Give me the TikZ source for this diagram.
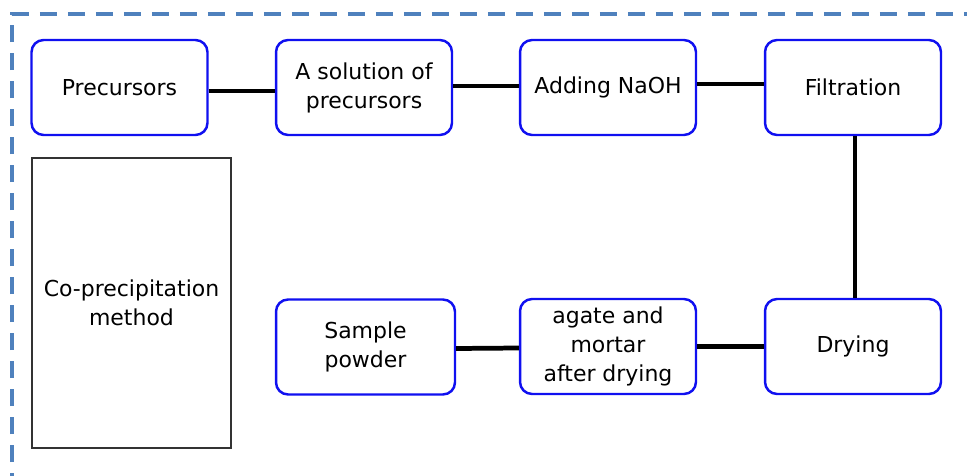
\documentclass[tikz,border=0pt]{standalone}
\usepackage{fontspec}
\setmainfont{DejaVu Sans}
\usepackage{tikz}
\usetikzlibrary{calc}
\usetikzlibrary{positioning}

\definecolor{frameblue}{HTML}{4F81BD}
\definecolor{boxblue}{HTML}{1010F0}

\tikzset{
  stepbox/.style={rectangle, rounded corners=0.24cm, draw=boxblue, line width=1.4pt,
    minimum width=3.52cm, minimum height=1.9cm, align=center, fill=white,
    font=\fontsize{12.5}{16.5}\selectfont},
  link/.style={line width=2.7pt, draw=black}
}

\begin{document}
\begin{tikzpicture}[x=0.02cm, y=-0.02cm]
\useasboundingbox (0,0) rectangle (967,476);
% outer dashed frame
\draw [frameblue, line width=2.3pt, dash pattern=on 0.35cm off 0.21cm] (12,490) -- (12,14) -- (980,14);

\node [stepbox] (pre) at (119.5, 87.5) {Precursors};
\node [stepbox] (sol) at (364, 87.5) {A solution of\\precursors};
\node [stepbox] (naoh) at (608, 87.5) {Adding NaOH};
\node [stepbox] (filt) at (853, 87.5) {Filtration};
\node [stepbox] (dry) at (853, 346.5) {Drying};
\node [stepbox] (agate) at (608, 346.5) {agate and\\mortar\\after drying};
\node [stepbox, minimum width=3.58cm] (powder) at (365.5, 347) {Sample\\powder};
\node [rectangle, draw=black!80, line width=0.8pt, minimum width=3.98cm, minimum height=5.8cm,
  align=center, font=\fontsize{12.5}{16.5}\selectfont] (method) at (131.5, 303) {Co-precipitation\\method};

\draw [link] ($(pre.east)+(0,3.5)$) -- ($(sol.west)+(0,3.5)$);
\draw [link] ($(sol.east)+(0,-1.5)$) -- ($(naoh.west)+(0,-1.5)$);
\draw [link] ($(naoh.east)+(0,-3.5)$) -- ($(filt.west)+(0,-3.5)$);
\draw [link] ($(filt.south)+(2,0)$) -- ($(dry.north)+(2,0)$);
\draw [link] (dry.west) -- (agate.east);
\draw [link] ($(agate.west)+(0,1.5)$) -- ($(powder.east)+(0,1.5)$);
\end{tikzpicture}
\end{document}
